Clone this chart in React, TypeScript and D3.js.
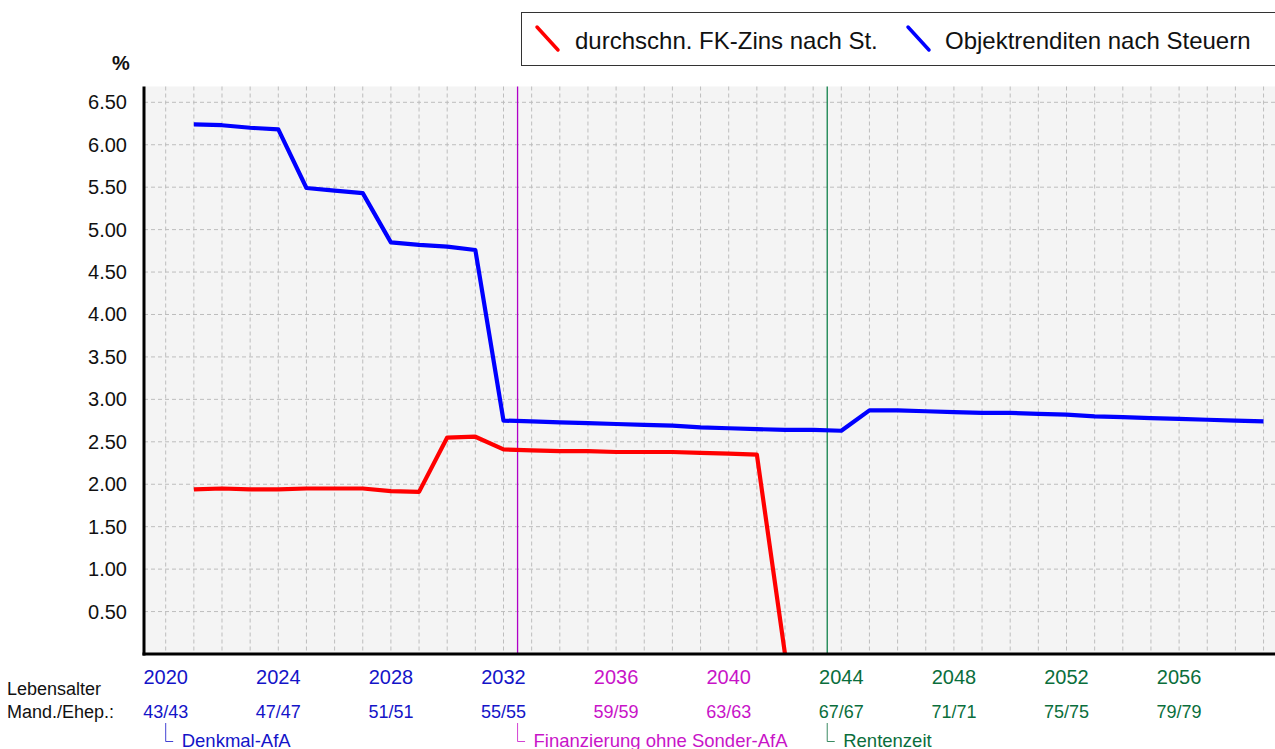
import React from "react";
import * as d3 from "d3";

const redYears = [2021,2022,2023,2024,2025,2026,2027,2028,2029,2030,2031,2032,2033,2034,2035,2036,2037,2038,2039,2040,2041,2042];
const redValues = [1.94,1.95,1.94,1.94,1.95,1.95,1.95,1.92,1.91,2.55,2.56,2.41,2.40,2.39,2.39,2.38,2.38,2.38,2.37,2.36,2.35,0];

const blueYears = [2021,2022,2023,2024,2025,2026,2027,2028,2029,2030,2031,2032,2033,2034,2035,2036,2037,2038,2039,2040,2041,2042,2043,2044,2045,2046,2047,2048,2049,2050,2051,2052,2053,2054,2055,2056,2057,2058,2059];
const blueValues = [6.24,6.23,6.20,6.18,5.49,5.46,5.43,4.85,4.82,4.80,4.76,2.75,2.74,2.73,2.72,2.71,2.70,2.69,2.67,2.66,2.65,2.64,2.64,2.63,2.87,2.87,2.86,2.85,2.84,2.84,2.83,2.82,2.80,2.79,2.78,2.77,2.76,2.75,2.74];

const yTicks = [0.5,1,1.5,2,2.5,3,3.5,4,4.5,5,5.5,6,6.5];
const yearLabels = [2020,2024,2028,2032,2036,2040,2044,2048,2052,2056];
const ageLabels = ["43/43","47/47","51/51","55/55","59/59","63/63","67/67","71/71","75/75","79/79"];
const gridYears = d3.range(2020, 2060);

const phaseStarts = [2020, 2032.5, 2043.5];
const phaseNames = ["Denkmal-AfA", "Finanzierung ohne Sonder-AfA", "Rentenzeit"];
const phaseColors = ["#1414c8", "#c814c8", "#0a6e3c"];
const phaseLineColors = ["#1414c8", "#b000c8", "#11804a"];

const legendNames = ["durchschn. FK-Zins nach St.", "Objektrenditen nach Steuern"];
const seriesColors = ["#ff0000", "#0000ff"];

const W = 1275, H = 749;
const plotLeft = 144, plotRight = 1275, plotTop = 86.5, plotBottom = 654;
const font = "Liberation Sans, Arial, sans-serif";

export default function App() {
  const x = d3.scaleLinear().domain([2020, 2059]).range([165.7, 165.7 + 39 * 28.15]);
  const y = d3.scaleLinear().domain([0, 6.5]).range([654, 102.3]);

  const line = d3.line<[number, number]>().x(d => x(d[0])).y(d => y(d[1]));
  const redPts = redYears.map((yr, i) => [yr, redValues[i]] as [number, number]);
  const bluePts = blueYears.map((yr, i) => [yr, blueValues[i]] as [number, number]);

  const phaseIndex = (yr: number) => {
    let k = 0;
    phaseStarts.forEach((s, i) => { if (yr >= s) k = i; });
    return k;
  };

  return (
    <svg width={W} height={H} style={{ position: "absolute", left: 0, top: 0, fontFamily: font }}>
      <defs>
        <clipPath id="plotclip">
          <rect x={plotLeft} y={plotTop} width={plotRight - plotLeft} height={plotBottom - plotTop} />
        </clipPath>
      </defs>
      <rect x={plotLeft} y={plotTop} width={plotRight - plotLeft} height={plotBottom - plotTop} fill="#f4f4f4" />
      {gridYears.map(g => (
        <line key={"gx" + g} x1={x(g)} x2={x(g)} y1={plotTop} y2={plotBottom} stroke="#bdbdbd" strokeWidth={1} strokeDasharray="4,3" />
      ))}
      {yTicks.map(t => (
        <line key={"gy" + t} x1={plotLeft} x2={plotRight} y1={y(t)} y2={y(t)} stroke="#bdbdbd" strokeWidth={1} strokeDasharray="4,3" />
      ))}
      {phaseStarts.slice(1).map((p, i) => (
        <line key={"ph" + p} x1={x(p)} x2={x(p)} y1={plotTop} y2={plotBottom} stroke={phaseLineColors[i + 1]} strokeWidth={1.3} />
      ))}
      <g clipPath="url(#plotclip)">
        <path d={line(redPts) || ""} fill="none" stroke={seriesColors[0]} strokeWidth={4.2} strokeLinejoin="round" />
        <path d={line(bluePts) || ""} fill="none" stroke={seriesColors[1]} strokeWidth={4.2} strokeLinejoin="round" />
      </g>
      <line x1={plotLeft} x2={plotLeft} y1={plotTop} y2={plotBottom + 1.5} stroke="#000" strokeWidth={3} />
      <line x1={plotLeft - 1.5} x2={plotRight} y1={plotBottom} y2={plotBottom} stroke="#000" strokeWidth={3} />
      {yTicks.map(t => (
        <text key={"yt" + t} x={127} y={y(t) + 7} textAnchor="end" fontSize={20} fill="#111">{t.toFixed(2)}</text>
      ))}
      <text x={121} y={70} textAnchor="middle" fontSize={20} fontWeight="bold" fill="#111">%</text>

      {yearLabels.map((yr, i) => {
        const c = phaseColors[phaseIndex(yr)];
        return (
          <g key={"yl" + yr}>
            <text x={x(yr)} y={684} textAnchor="middle" fontSize={20} fill={c}>{yr}</text>
            <text x={x(yr)} y={718} textAnchor="middle" fontSize={18} fill={c}>{ageLabels[i]}</text>
          </g>
        );
      })}
      <text x={7} y={695} fontSize={18} fill="#111">Lebensalter</text>
      <text x={7} y={718} fontSize={18} fill="#111">Mand./Ehep.:</text>

      {phaseStarts.map((p, i) => (
        <g key={"pn" + p}>
          <path d={`M${x(p)},723 V741.5 H${x(p) + 7.5}`} fill="none" stroke={phaseColors[i]} strokeOpacity={0.8} strokeWidth={1} />
          <text x={x(p) + 16} y={746.5} fontSize={18.5} fill={phaseColors[i]}>{phaseNames[i]}</text>
        </g>
      ))}

      <rect x={521.5} y={12.5} width={800} height={53} fill="#fff" stroke="#333" strokeWidth={1} />
      <line x1={537} y1={27} x2={558} y2={50} stroke={seriesColors[0]} strokeWidth={3.5} strokeLinecap="round" />
      <text x={575} y={49} fontSize={24} fill="#111">{legendNames[0]}</text>
      <line x1={908} y1={27} x2={929} y2={50} stroke={seriesColors[1]} strokeWidth={3.5} strokeLinecap="round" />
      <text x={945} y={49} fontSize={24} fill="#111">{legendNames[1]}</text>
    </svg>
  );
}
